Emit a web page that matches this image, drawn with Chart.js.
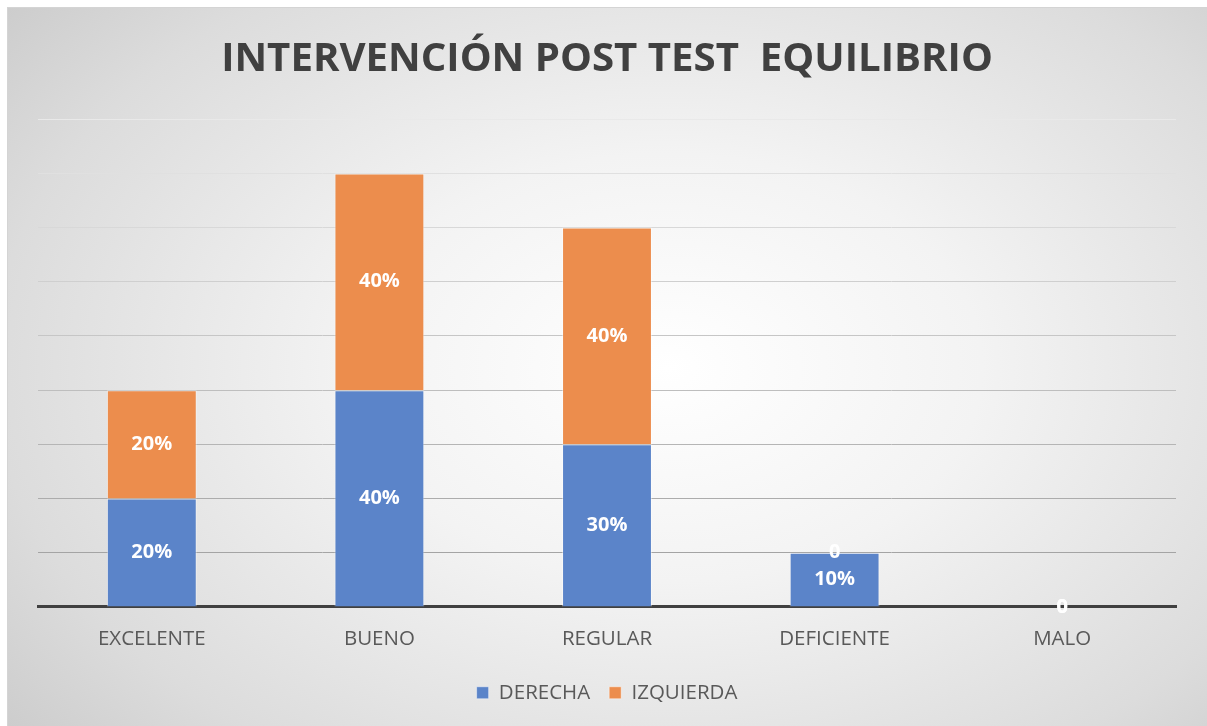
<!DOCTYPE html>
<html>
<head>
<meta charset="utf-8">
<script src="https://cdn.jsdelivr.net/npm/chart.js@4"></script>
<style>
  html, body { margin: 0; padding: 0; background: #fff; }
  #wrap {
    position: absolute; left: 7px; top: 7px; width: 1199px; height: 719px;
    background: radial-gradient(ellipse 75% 85% at 55% 50%, #ffffff 0%, #f3f3f3 35%, #dcdcdc 75%, #c8c8c8 100%);
    border-top: 1px solid #d4d4d4; border-left: 1px solid #d4d4d4;
  }
  canvas { position: absolute; left: 0; top: 0; }
</style>
</head>
<body>
<div id="wrap"></div>
<canvas id="chart" width="1207" height="726"></canvas>
<script>
const categories = ['EXCELENTE', 'BUENO', 'REGULAR', 'DEFICIENTE', 'MALO'];
const derecha = [20, 40, 30, 10, 0];
const izquierda = [20, 40, 40, 0, 0];
const yMax = 90;
const yStep = 10;

const pctLabel = (v) => (v === 0 ? '0' : v + '%');

// white labels in the middle of each stacked piece
const barLabels = {
  id: 'barLabels',
  afterDatasetsDraw(chart) {
    const ctx = chart.ctx;
    ctx.save();
    ctx.fillStyle = '#ffffff';
    ctx.font = 'bold 20px "Open Sans"';
    ctx.textAlign = 'center';
    ctx.textBaseline = 'middle';
    chart.data.datasets.forEach((ds, i) => {
      chart.getDatasetMeta(i).data.forEach((bar, j) => {
        const p = bar.getProps(['x', 'y', 'base'], true);
        ctx.fillText(pctLabel(ds.data[j]), p.x, (p.y + p.base) / 2);
      });
    });
    ctx.restore();
  }
};

new Chart(document.getElementById('chart'), {
  type: 'bar',
  data: {
    labels: categories,
    datasets: [
      { label: 'DERECHA', data: derecha, backgroundColor: '#5b84c9', borderColor: 'rgba(255,255,255,0.45)', borderWidth: 1 },
      { label: 'IZQUIERDA', data: izquierda, backgroundColor: '#ec8d4d', borderColor: 'rgba(255,255,255,0.45)', borderWidth: 1 },
    ],
  },
  options: {
    responsive: false,
    animation: false,
    barPercentage: 0.395,
    categoryPercentage: 1,
    layout: { padding: { left: 38, right: 31, top: 0, bottom: 13 } },
    plugins: {
      title: {
        display: true,
        text: 'INTERVENCIÓN POST TEST  EQUILIBRIO',
        color: '#404040',
        font: { family: 'Open Sans', size: 40.2, weight: 'bold', lineHeight: 1.2 },
        padding: { top: 35, bottom: 36 },
      },
      legend: {
        position: 'bottom',
        labels: {
          color: '#595959',
          font: { family: 'Open Sans', size: 20.5 },
          boxWidth: 12, boxHeight: 12, padding: 19,
        },
      },
      tooltip: { enabled: false },
    },
    scales: {
      x: {
        stacked: true,
        grid: { display: false },
        border: { display: true, color: '#404040', width: 3 },
        ticks: { color: '#595959', font: { family: 'Open Sans', size: 20.5 }, padding: 12 },
      },
      y: {
        stacked: true,
        min: 0, max: yMax,
        afterFit: (s) => { s.width = 0; },
        border: { display: false },
        ticks: { display: false, stepSize: yStep },
        grid: {
          drawTicks: false,
          color: (c) => {
            const t = c.tick ? c.tick.value / yMax : 0;
            const g = Math.round(155 + 78 * t);
            return `rgb(${g},${g},${g})`;
          },
        },
      },
    },
  },
  plugins: [barLabels],
});
</script>
</body>
</html>
